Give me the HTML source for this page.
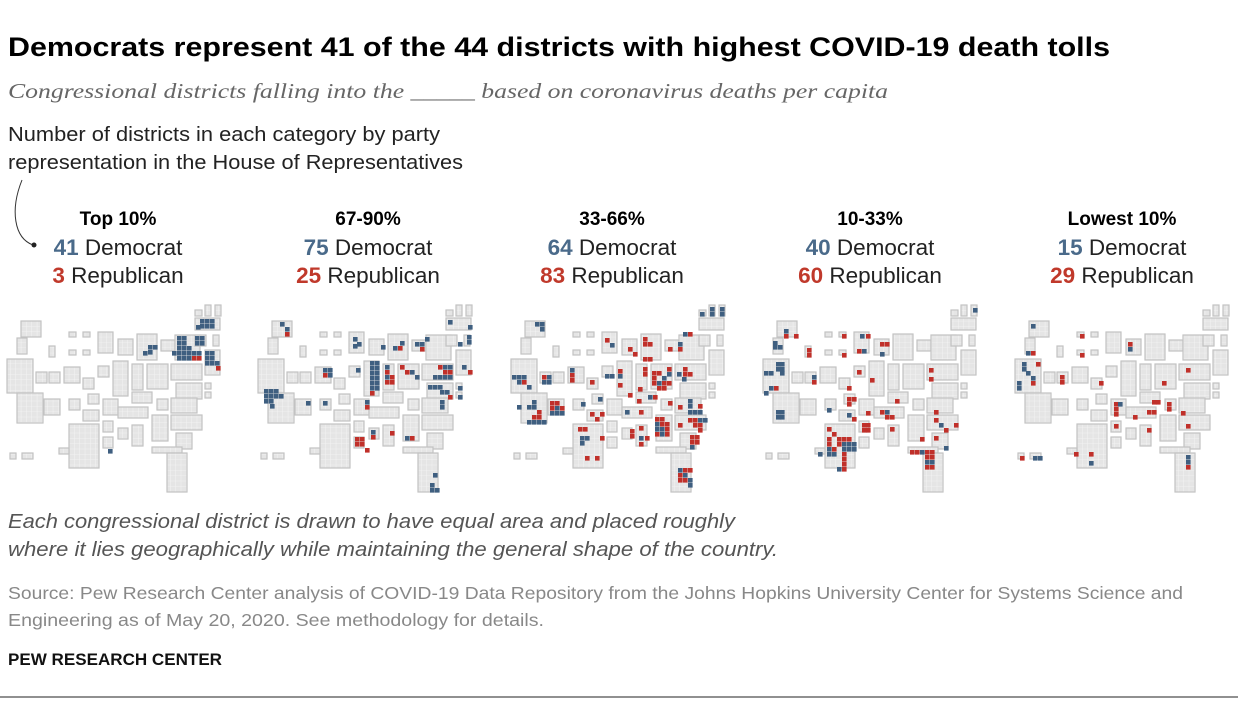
<!DOCTYPE html>
<html><head><meta charset="utf-8">
<style>
body{margin:0;background:#fff;width:1238px;height:701px;overflow:hidden;font-family:"Liberation Sans",sans-serif;}
svg{position:absolute;left:0;top:0}
</style></head>
<body>
<svg id="chart" width="1238" height="701">
<defs>
<pattern id="grid" width="5.33" height="5.33" patternUnits="userSpaceOnUse">
<rect width="5.33" height="5.33" fill="#e5e5e5"/>
<path d="M5.33 0V5.33H0" fill="none" stroke="#f6f6f6" stroke-width="0.8"/>
</pattern>
</defs>
<text x="8" y="56" font-size="27" font-weight="bold" fill="#000" textLength="1102" lengthAdjust="spacingAndGlyphs">Democrats represent 41 of the 44 districts with highest COVID-19 death tolls</text>
<text x="8" y="98" font-size="21" font-style="italic" fill="#666" font-family="Liberation Serif, serif" textLength="880" lengthAdjust="spacingAndGlyphs">Congressional districts falling into the _____ based on coronavirus deaths per capita</text>
<text x="8" y="141" font-size="20" fill="#222" textLength="432" lengthAdjust="spacingAndGlyphs">Number of districts in each category by party</text>
<text x="8" y="169" font-size="20" fill="#222" textLength="455" lengthAdjust="spacingAndGlyphs">representation in the House of Representatives</text>
<path d="M22 180 C10 210,14 238,33 245" fill="none" stroke="#333" stroke-width="1"/>
<circle cx="34" cy="245" r="2.5" fill="#222"/>
<g id="panels"></g>
<text x="8" y="528" font-size="20" font-style="italic" fill="#555" textLength="727" lengthAdjust="spacingAndGlyphs">Each congressional district is drawn to have equal area and placed roughly</text>
<text x="8" y="556" font-size="20" font-style="italic" fill="#555" textLength="770" lengthAdjust="spacingAndGlyphs">where it lies geographically while maintaining the general shape of the country.</text>
<text x="8" y="599" font-size="17.5" fill="#888" textLength="1175" lengthAdjust="spacingAndGlyphs">Source: Pew Research Center analysis of COVID-19 Data Repository from the Johns Hopkins University Center for Systems Science and</text>
<text x="8" y="626" font-size="17.5" fill="#888" textLength="536" lengthAdjust="spacingAndGlyphs">Engineering as of May 20, 2020. See methodology for details.</text>
<text x="8" y="665" font-size="17" font-weight="bold" fill="#111" textLength="214" lengthAdjust="spacingAndGlyphs">PEW RESEARCH CENTER</text>
<line x1="0" y1="697" x2="1238" y2="697" stroke="#222" stroke-width="1"/>
</svg>
<script>
const categories = ["Top 10%","67-90%","33-66%","10-33%","Lowest 10%"];
const demCounts = [41,75,64,40,15];
const repCounts = [3,25,83,60,29];
const panelCenters = [118,368,612,870,1122];
const states = [[21,21,20,16],[17,38,10,16],[7,59,26,34],[17,93,26,30],[69,32,7,5],[83,32,7,5],[69,50,7,5],[83,50,7,5],[49,46,6,11],[36,72,11,11],[49,72,11,11],[64,67,16,16],[83,78,11,11],[98,32,15,21],[118,39,15,16],[137,34,20,26],[161,40,14,11],[175,35,25,25],[195,18,25,12],[195,10,7,6],[205,5,6,11],[215,5,6,11],[195,35,11,11],[213,35,6,11],[205,50,15,25],[98,66,11,11],[113,61,15,35],[132,64,11,26],[147,64,21,25],[171,64,31,16],[176,83,26,16],[205,83,6,6],[205,92,6,6],[44,99,16,16],[69,99,11,11],[88,94,11,10],[103,99,15,16],[132,92,20,11],[157,99,11,11],[171,98,26,15],[83,110,16,11],[118,107,30,11],[171,115,31,15],[103,121,10,11],[118,128,10,11],[132,125,11,21],[152,115,16,26],[176,133,16,16],[69,124,30,44],[59,148,10,6],[103,137,10,11],[152,147,30,6],[167,153,20,39],[10,153,6,6],[22,153,11,6]];
const mapOffsets=[0,251,504,756,1008];
const cellOrigins=[0,250,500,752,1004];
const districts1 = "200,19,b;205,19,b;210,19,b;200,24,b;205,24,b;210,24,b;196,25,b;195,36,b;200,36,b;195,41,b;200,41,b;177,36,b;182,36,b;177,41,b;182,41,b;177,46,b;182,46,b;187,46,b;172,51,b;177,51,b;182,51,b;187,51,b;192,51,b;197,51,b;177,56,b;182,56,b;187,56,b;192,56,r;197,56,r;205,51,b;210,51,b;210,56,b;205,56,b;210,61,b;215,61,b;205,61,b;216,66,r;143,51,b;148,45,b;153,45,b;148,50,b;108,149,b";
const districts2 = "30,22,b;35,27,b;35,32,r;14,89,b;19,89,b;24,89,b;14,94,b;19,94,b;24,94,b;29,94,b;14,99,b;19,99,b;20,104,b;73,68,b;78,68,b;73,73,r;78,73,b;56,101,b;73,101,b;106,68,b;131,45,b;103,37,b;107,42,b;103,44,b;120,61,b;125,61,b;120,66,b;125,66,b;120,71,b;125,71,b;120,76,b;125,76,b;120,81,b;125,81,b;120,86,b;125,86,b;120,91,r;135,65,b;135,70,r;135,75,b;140,75,r;135,80,r;140,80,r;143,46,b;148,46,r;150,41,b;150,65,r;155,70,r;160,70,b;165,75,b;165,42,b;170,42,b;170,47,r;175,37,b;188,65,r;193,65,b;198,65,b;193,70,r;198,70,r;183,75,b;188,75,b;193,75,b;198,75,b;178,85,b;183,85,b;188,85,b;190,90,b;195,90,b;198,95,r;208,86,b;208,95,b;212,65,b;218,70,r;198,20,b;218,25,b;217,35,b;217,40,b;208,42,b;190,100,b;190,105,b;115,100,b;115,105,r;121,130,b;121,135,r;140,131,r;105,137,r;110,137,r;105,142,r;110,142,r;115,148,r;155,136,b;160,136,r;183,173,b;180,183,b;180,188,b;185,188,b";
const districts3 = "35,22,b;40,22,b;40,27,b;200,12,b;210,7,b;210,12,b;220,7,b;220,12,b;12,75,b;17,75,b;22,75,b;17,80,b;22,80,r;27,85,b;32,100,b;17,105,b;27,105,b;32,105,b;37,110,r;37,115,r;32,115,r;27,120,b;32,120,b;37,120,b;42,120,b;42,75,r;47,75,b;42,80,b;47,80,b;70,68,b;70,73,r;70,78,r;50,101,r;55,101,r;50,106,r;55,106,b;60,106,r;50,111,b;55,111,b;60,111,b;81,102,b;90,80,r;98,97,b;90,112,r;100,112,r;95,117,r;105,74,b;110,74,b;105,38,r;110,43,b;118,69,r;118,74,b;118,83,r;128,93,r;128,47,r;133,52,r;143,37,r;143,42,r;148,42,r;143,57,r;148,57,r;143,67,r;143,72,r;138,87,r;137,99,r;148,95,b;153,95,r;152,71,r;157,71,r;152,76,r;152,81,r;157,81,b;162,81,r;162,76,b;167,67,r;167,72,b;167,81,r;157,86,r;162,86,r;168,47,r;178,42,b;178,47,r;183,32,b;188,32,r;168,101,r;177,72,b;183,72,r;188,72,r;183,67,r;182,77,b;188,99,b;188,104,b;198,104,r;188,110,b;193,110,b;198,110,b;178,105,r;188,118,r;193,118,r;198,118,b;203,118,b;193,123,r;198,123,r;198,128,r;178,123,r;190,135,r;195,135,r;190,140,r;195,140,r;190,145,b;155,117,r;160,117,r;155,122,b;160,122,r;165,122,r;155,127,b;160,127,b;165,127,r;155,132,r;160,132,b;165,132,r;125,110,b;139,110,r;130,129,r;130,134,r;139,126,r;139,136,b;145,136,r;139,142,r;78,127,r;83,127,r;80,136,b;85,136,b;100,136,r;80,141,b;85,156,r;95,156,r;178,168,b;183,168,r;188,168,r;178,173,r;183,173,b;178,178,r;183,178,r;188,178,b;188,183,b";
const districts4 = "32,29,b;32,34,r;42,34,r;21,41,b;21,45,b;26,45,b;24,62,b;28,62,b;24,67,b;28,67,b;12,71,b;17,71,b;28,71,b;17,86,b;22,86,r;12,91,b;24,110,b;28,110,b;24,115,b;28,115,b;55,48,r;55,53,r;90,34,r;90,53,r;60,75,b;60,80,r;108,34,b;114,34,r;105,49,r;110,49,b;128,42,r;133,42,r;128,52,b;105,70,r;118,78,r;95,86,r;95,97,r;100,97,r;95,102,r;75,108,b;95,113,b;100,117,r;114,111,r;128,110,r;133,110,b;133,115,r;138,115,r;143,99,r;110,123,r;114,123,r;110,128,r;114,128,r;138,127,r;168,137,r;177,68,r;177,77,r;182,110,r;182,118,r;187,123,b;192,128,r;202,123,r;182,136,r;192,146,b;158,150,r;163,150,r;168,150,b;173,150,r;178,150,r;173,155,r;178,155,r;173,160,b;178,160,b;173,165,r;178,165,r;75,127,r;80,132,r;75,137,r;75,142,r;85,137,r;90,137,r;95,137,r;75,147,b;80,147,r;85,142,r;90,142,b;95,142,b;100,142,b;90,147,b;95,147,b;100,147,b;75,152,b;80,152,b;66,152,b;90,152,r;90,157,r;90,162,r;90,167,r;85,167,b;221,8,b";
const districts5 = "27,24,b;22,51,b;27,51,r;18,62,b;32,62,r;18,67,b;22,71,b;27,76,b;27,81,r;13,81,b;13,86,b;56,75,r;56,80,r;76,34,r;76,53,r;124,42,r;124,47,b;95,81,r;110,102,r;114,102,b;110,107,r;110,112,r;129,115,r;110,124,r;148,100,r;152,100,r;163,102,r;163,107,r;143,110,r;148,110,r;143,128,r;158,81,r;182,68,r;177,111,r;182,124,r;70,152,r;85,152,r;85,161,b;16,156,r;29,156,b;34,156,b;182,155,b;182,160,b;182,165,r";
const districtSets=[districts1,districts2,districts3,districts4,districts5];
const NS="http://www.w3.org/2000/svg";
const root=document.getElementById('panels');
function mk(tag,attrs,parent){const e=document.createElementNS(NS,tag);for(const k in attrs)e.setAttribute(k,attrs[k]);parent.appendChild(e);return e;}
categories.forEach((cat,i)=>{
  const g=mk('g',{},root);
  
  
  const cx=panelCenters[i];
  const h=mk('text',{x:cx,y:225,'text-anchor':'middle','font-size':19,'font-weight':'bold',fill:'#000'},g);
  h.textContent=cat;
  
  
  const d=mk('text',{x:cx,y:255,'text-anchor':'middle','font-size':22.5,fill:'#222'},g);
  d.innerHTML='<tspan font-weight="bold" fill="#4a6a8a">'+demCounts[i]+'</tspan> Democrat';
  
  
  const r=mk('text',{x:cx,y:283,'text-anchor':'middle','font-size':22.5,fill:'#222'},g);
  r.innerHTML='<tspan font-weight="bold" fill="#c0392b">'+repCounts[i]+'</tspan> Republican';
  
  
  const mg=mk('g',{transform:'translate('+mapOffsets[i]+',300)'},g);
  
  
  states.forEach(s=>{
    const st=mk('rect',{x:s[0],y:s[1],width:s[2],height:s[3],fill:'url(#grid)',stroke:'#c2c2c2','stroke-width':1.2},mg);
    
    
  });
  const cg=mk('g',{transform:'translate('+cellOrigins[i]+',300)'},g);
  districtSets[i].split(';').forEach(t=>{
    const p=t.split(',');
    const c=mk('rect',{x:+p[0],y:+p[1],width:4.6,height:4.6,fill:p[2]==='b'?'#3f5f80':'#c0302a'},cg);
    
    
  });
});
</script>
</body></html>
